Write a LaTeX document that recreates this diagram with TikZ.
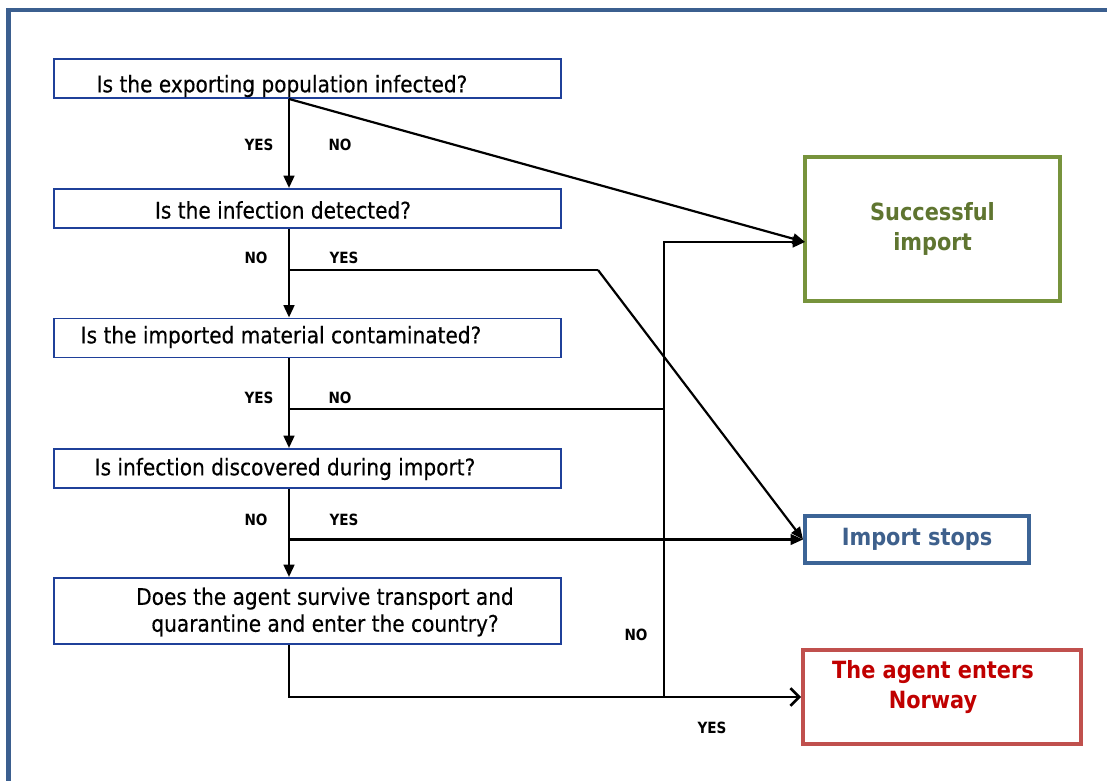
\documentclass[tikz,border=0pt]{standalone}
\usepackage{fontspec}
\setmainfont{DejaVu Sans}[FakeStretch=0.88]
\newfontfamily\qfont{DejaVu Sans}[FakeStretch=0.88,FakeBold=0.35]
\usetikzlibrary{arrows.meta}

\definecolor{qblue}{RGB}{31,64,153}
\definecolor{framecol}{RGB}{59,95,143}
\definecolor{okgreen}{RGB}{119,147,60}
\definecolor{okgreentext}{RGB}{95,117,48}
\definecolor{stopblue}{RGB}{60,100,150}
\definecolor{stopbluetext}{RGB}{62,96,140}
\definecolor{agentred}{RGB}{192,80,77}
\definecolor{agenttext}{RGB}{192,0,0}

\begin{document}
\begin{tikzpicture}[x=0.02cm,y=-0.02cm,line width=1.25pt,>={Triangle[length=7pt,width=6pt]},
  frame/.style={draw=framecol,line width=2.3pt},
  qbox/.style={draw=qblue,line width=1.1pt,minimum width=10.14cm,minimum height=0.78cm,inner sep=0pt},
  qtext/.style={font=\qfont\fontsize{13}{15.3}\selectfont,align=center,inner sep=0pt},
  endbox/.style={line width=2.3pt,inner sep=0pt,font=\fontsize{13.5}{17}\selectfont\bfseries,align=center},
  yn/.style={font=\fontsize{8.8}{10}\selectfont\bfseries,inner sep=0pt}]
\useasboundingbox (0,0) rectangle (1107,781);
\draw[frame] (8.5,781) -- (8.5,10) -- (1107,10);

% question boxes
\node[qbox] (q1) at (307.5,78.5) {};
\node[qtext] (q1t) at (282,86) {Is the exporting population infected?};
\node[qbox] (q2) at (307.5,208.5) {};
\node[qtext] (q2t) at (283,210) {Is the infection detected?};
\node[qbox] (q3) at (307.5,338) {};
\node[qtext] (q3t) at (281,337) {Is the imported material contaminated?};
\node[qbox] (q4) at (307.5,468.5) {};
\node[qtext] (q4t) at (285,469) {Is infection discovered during import?};
\node[qbox,minimum height=1.32cm] (q5) at (307.5,611) {};
\node[qtext] (q5t) at (325,612) {Does the agent survive transport and\\quarantine and enter the country?};

% outcomes
\node[endbox,draw=okgreen,text=okgreentext,minimum width=5.10cm,minimum height=2.88cm] (succ) at (932.5,229) {Successful\\import};
\node[endbox,draw=stopblue,text=stopbluetext,minimum width=4.48cm,minimum height=0.94cm] (stop) at (917,539.5) {Import stops};
\node[endbox,draw=agentred,minimum width=5.56cm,minimum height=1.88cm] (agent) at (942,697) {};
\node[endbox,text=agenttext] (agentt) at (933,687) {The agent enters\\Norway};

% branch points
\coordinate (sp) at (289,0);
\coordinate (bus) at (664,0);
\coordinate (s1) at (805,242);
\coordinate (b2) at (289,270);
\coordinate (k2) at (598,270);
\coordinate (b3) at (289,409);
\coordinate (b4) at (289,539.5);

% main spine
\foreach \a/\b in {q1/q2,q2/q3,q3/q4,q4/q5}
  \draw[->,line width=1.5pt] (\a.south -| sp) -- (\b.north -| sp);

\draw[->] (q1.south -| sp) -- (s1);
\draw[line width=0.6pt] (b2) -- (k2);
\draw[->] (k2) -- (stop.west);
\draw (b3) -- (b3 -| bus);
\draw[->] (b4) -- (stop.west);
\draw[line width=1.5pt,-{Straight Barb[length=5pt,width=10pt]}] (q5.south -| sp) |- (agent.west);
\draw[->,line width=1.5pt] (agent.west -| bus) -- (s1 -| bus) -- (s1);

% yes / no labels
\foreach \x/\y/\t [count=\i] in {259/145/YES,340/145/NO,256/258/NO,344/258/YES,
    259/398/YES,340/398/NO,256/520/NO,344/520/YES,636/635/NO,712/728/YES}
  \node[yn] (yn\i) at (\x,\y) {\t};
\end{tikzpicture}
\end{document}
